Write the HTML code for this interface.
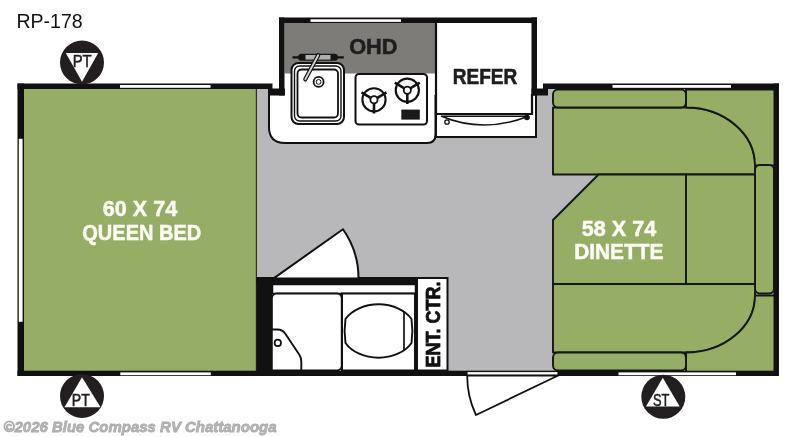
<!DOCTYPE html>
<html><head><meta charset="utf-8">
<style>
html,body{margin:0;padding:0;background:#fff;width:800px;height:437px;overflow:hidden}
svg{display:block;will-change:transform}
text{font-family:"Liberation Sans",sans-serif}
</style></head>
<body>
<svg width="800" height="437" viewBox="0 0 800 437">
<rect x="0" y="0" width="800" height="437" fill="#fff"/>
<!-- title -->
<text x="16.5" y="27.8" font-size="19.5" fill="#111">RP-178</text>

<!-- floor -->
<rect x="256" y="89" width="518" height="282" fill="#b8b8ba"/>
<!-- queen bed -->
<rect x="24" y="89" width="232.5" height="282" fill="#96ad66"/>
<rect x="255.8" y="89" width="1.2" height="282" fill="#2a3320"/>

<!-- slideout interior -->
<rect x="284.5" y="23" width="247" height="72" fill="#fff"/>
<rect x="284.5" y="23" width="150.5" height="50.5" fill="#7d7c78"/>

<!-- counter -->
<path d="M269,95 V127 C269,137 274,143 285,143 H427 Q435.5,143 435.5,134.5 V95" fill="#fff" stroke="#111" stroke-width="2"/>
<!-- refer lower box -->
<path d="M436,114 V137 H536 V95" fill="#fff" stroke="#111" stroke-width="2"/>
<!-- refer box -->
<rect x="436" y="23" width="96" height="91" fill="#fff"/>
<path d="M436,23 V114 H532 V94" fill="none" stroke="#111" stroke-width="2.2"/>
<!-- refer handle -->
<path d="M441.5,116.3 H528.5 Q483,133.7 441.5,116.3 Z" fill="#fff" stroke="#111" stroke-width="1.5" stroke-linejoin="round"/>
<circle cx="447" cy="122" r="2.2" fill="#fff" stroke="#111" stroke-width="1.3"/>
<circle cx="527" cy="117.5" r="2.8" fill="#111"/>

<!-- OHD text -->
<text x="373.3" y="54" font-size="22.6" font-weight="bold" fill="#1e1e1e" stroke="#1e1e1e" stroke-width="0.6" text-anchor="middle" textLength="48.3" lengthAdjust="spacingAndGlyphs">OHD</text>
<text x="485" y="83.5" font-size="22" font-weight="bold" fill="#1e1e1e" stroke="#1e1e1e" stroke-width="0.6" text-anchor="middle" textLength="64.5" lengthAdjust="spacingAndGlyphs">REFER</text>

<!-- sink -->
<rect x="291.5" y="63" width="52.5" height="61" rx="7" fill="#fff" stroke="#111" stroke-width="2"/>
<rect x="294.5" y="66" width="46.5" height="55" rx="5" fill="none" stroke="#111" stroke-width="1.4"/>
<rect x="297.5" y="69.5" width="40.5" height="48" rx="4" fill="#fff" stroke="#111" stroke-width="1.8"/>
<!-- faucet -->
<line x1="292.5" y1="57.3" x2="343.8" y2="57.3" stroke="#111" stroke-width="2.2"/>
<rect x="298" y="53.8" width="40" height="7" rx="3.5" fill="#151515"/>
<rect x="305.5" y="55" width="25" height="4.6" fill="#b0b0ac"/>
<line x1="318.2" y1="55.3" x2="305.3" y2="79.3" stroke="#111" stroke-width="4.2" stroke-linecap="round"/>
<line x1="318.2" y1="55.3" x2="305.3" y2="79.3" stroke="#d8d8d8" stroke-width="1.8" stroke-linecap="round"/>
<circle cx="318.6" cy="81.9" r="5" fill="#fff" stroke="#111" stroke-width="1.8"/>
<circle cx="318.6" cy="81.9" r="2.4" fill="#fff" stroke="#111" stroke-width="1"/>

<!-- stove -->
<rect x="355.5" y="74" width="71.5" height="50.5" rx="3.5" fill="#fff" stroke="#111" stroke-width="2"/>
<g stroke="#111" fill="none">
<circle cx="374" cy="99.8" r="11.6" stroke-width="2.1"/>
<circle cx="407.3" cy="90.2" r="11.6" stroke-width="2.1"/>
<path d="M374,99.8 L361.5,92.3 M374,99.8 L386.5,92.3 M374,99.8 V113.5" stroke-width="2.6"/>
<path d="M407.3,90.2 L394.8,82.7 M407.3,90.2 L419.8,82.7 M407.3,90.2 V103.9" stroke-width="2.6"/>
</g>
<circle cx="374" cy="99.8" r="3.6" fill="#fff" stroke="#111" stroke-width="1.8"/>
<circle cx="407.3" cy="90.2" r="3.6" fill="#fff" stroke="#111" stroke-width="1.8"/>
<rect x="401.3" y="109.6" width="18.5" height="10" fill="#1a1a1a"/>

<!-- slideout walls -->
<g fill="#111">
<rect x="279" y="17.5" width="5.5" height="78"/>
<rect x="279" y="17.5" width="258" height="5.5"/>
<rect x="531.5" y="17.5" width="5.5" height="78"/>
<rect x="268" y="88.5" width="17" height="7"/>
<rect x="531.5" y="88.5" width="16.5" height="7"/>
</g>
<rect x="310.5" y="19.3" width="90.5" height="2.6" fill="#fff"/>

<!-- dinette -->
<rect x="686" y="89" width="88" height="282" fill="#96ad66"/>
<g fill="#96ad66" stroke="#141812" stroke-width="1.9" stroke-linejoin="round">
<path d="M553,107.5 H686 A69,58 0 0 1 755,165.5 V174.5 H553 Z"/>
<path d="M686,89.5 H775 V165.5 H755 A69,58 0 0 0 686,107.5 Z"/>
<rect x="553" y="89.5" width="133" height="18" rx="5"/>
<rect x="755" y="165" width="19" height="128.5" rx="5"/>
<path d="M598.5,174.5 H686 V284 H553 V220 Z"/>
<rect x="686" y="174.5" width="69" height="109.5"/>
<path d="M553,284 H755 V295.5 A69,57 0 0 1 686,352.5 H553 Z"/>
<path d="M686,372 V352.5 A69,57 0 0 0 755,295.5 H775 V372 Z"/>
<rect x="553" y="352.5" width="133" height="18" rx="5"/>
</g>
<text x="619" y="236" font-size="22.3" font-weight="bold" fill="#fdfdf5" stroke="#fdfdf5" stroke-width="0.5" text-anchor="middle" textLength="74.3" lengthAdjust="spacingAndGlyphs">58 X 74</text>
<text x="618.8" y="259.3" font-size="22.3" font-weight="bold" fill="#fdfdf5" stroke="#fdfdf5" stroke-width="0.5" text-anchor="middle" textLength="89.2" lengthAdjust="spacingAndGlyphs">DINETTE</text>

<!-- bed text -->
<text x="140" y="215.9" font-size="22.3" font-weight="bold" fill="#fdfdf5" stroke="#fdfdf5" stroke-width="0.5" text-anchor="middle" textLength="74.3" lengthAdjust="spacingAndGlyphs">60 X 74</text>
<text x="141.8" y="239.9" font-size="22.3" font-weight="bold" fill="#fdfdf5" stroke="#fdfdf5" stroke-width="0.5" text-anchor="middle" textLength="119" lengthAdjust="spacingAndGlyphs">QUEEN BED</text>

<!-- bathroom -->
<rect x="272" y="284" width="145" height="87" fill="#fff"/>
<rect x="272.5" y="284.5" width="143" height="9" fill="#fff" stroke="#111" stroke-width="1.5"/>
<rect x="271.8" y="293.5" width="70" height="77" rx="5" fill="#fff" stroke="#111" stroke-width="2"/>
<path d="M271.8,329.5 H277.5 Q282.5,329.5 285.5,334 L299.5,355 Q301.3,358 301.3,361.5 V370.5 H271.8 Z" fill="#fff" stroke="#111" stroke-width="1.9" stroke-linejoin="round"/>
<circle cx="277.8" cy="342.9" r="3.2" fill="#fff" stroke="#111" stroke-width="1.7"/>
<rect x="342" y="293.5" width="73" height="77" fill="#fff" stroke="#111" stroke-width="2"/>
<path d="M345.5,319 A37,26.8 0 0 1 411.5,319 Q413.3,331 411.5,343 A37,26.8 0 0 1 345.5,343 Q343.7,331 345.5,319 Z" fill="#fff" stroke="#111" stroke-width="1.9"/>
<line x1="404" y1="312" x2="404" y2="351" stroke="#111" stroke-width="1.7"/>
<g fill="#111">
<rect x="256.5" y="277" width="15.5" height="94"/>
<rect x="256.5" y="277" width="160.5" height="7"/>
</g>
<rect x="417" y="278" width="30.5" height="92.5" fill="#fff" stroke="#111" stroke-width="2"/>
<text transform="translate(439.8,324.5) rotate(-90)" x="0" y="0" font-size="21" font-weight="bold" fill="#111" stroke="#111" stroke-width="0.8" text-anchor="middle" textLength="86" lengthAdjust="spacingAndGlyphs">ENT. CTR.</text>
<!-- bath door -->
<path d="M273.3,278.6 L343,229.2 A85.5,85.5 0 0 1 358.5,278.6 Z" fill="#fff" stroke="#111" stroke-width="2" stroke-linejoin="round"/>

<!-- main walls -->
<g fill="#111">
<rect x="17.5" y="83.5" width="6.5" height="292.5"/>
<rect x="17.5" y="83.5" width="255" height="5.5"/>
<rect x="543" y="83.5" width="236" height="5.5"/>
<rect x="773.5" y="83.5" width="5.5" height="292.5"/>
<rect x="17.5" y="370.7" width="761.5" height="5.3"/>
</g>
<!-- windows -->
<g fill="#fff">
<rect x="120" y="85" width="90.5" height="2.8"/>
<rect x="612.5" y="85" width="118.5" height="2.8"/>
<rect x="18.8" y="138.8" width="3.8" height="183"/>
<rect x="120.3" y="372.4" width="90.5" height="2.8"/>
<rect x="618.5" y="372.4" width="117.5" height="2.8"/>
</g>
<!-- main door -->
<rect x="467" y="371.5" width="91" height="4" fill="#fff" stroke="#111" stroke-width="1.2"/>
<path d="M558.2,375.5 L476,415 A91,91 0 0 1 467.2,375.5 Z" fill="#fff" stroke="#111" stroke-width="1.8" stroke-linejoin="round"/>

<!-- PT / ST markers -->
<circle cx="82" cy="62.5" r="22" fill="#231f20"/>
<path d="M65.8,53 H98.2 L82,81.8 Z" fill="#fff"/>
<text x="82.2" y="66.7" font-size="17" fill="#231f20" stroke="#231f20" stroke-width="0.55" text-anchor="middle" textLength="19" lengthAdjust="spacingAndGlyphs">PT</text>

<circle cx="82" cy="396" r="22" fill="#231f20"/>
<path d="M82,377.3 L100.5,407.2 H64.5 Z" fill="#fff"/>
<text x="80.8" y="405.7" font-size="17" fill="#231f20" stroke="#231f20" stroke-width="0.55" text-anchor="middle" textLength="18" lengthAdjust="spacingAndGlyphs">PT</text>

<circle cx="663.3" cy="396.8" r="22" fill="#231f20"/>
<path d="M662.8,377.8 L679.7,406.6 H646 Z" fill="#fff"/>
<text x="661.2" y="405.8" font-size="16.5" fill="#231f20" stroke="#231f20" stroke-width="0.55" text-anchor="middle" textLength="16.4" lengthAdjust="spacingAndGlyphs">ST</text>

<!-- watermark -->
<text x="3.5" y="432" font-size="15.3" font-weight="bold" font-style="italic" fill="#b5b5b5" stroke="#ababab" stroke-width="0.8" textLength="273" lengthAdjust="spacingAndGlyphs">©2026 Blue Compass RV Chattanooga</text>
</svg>
</body></html>
